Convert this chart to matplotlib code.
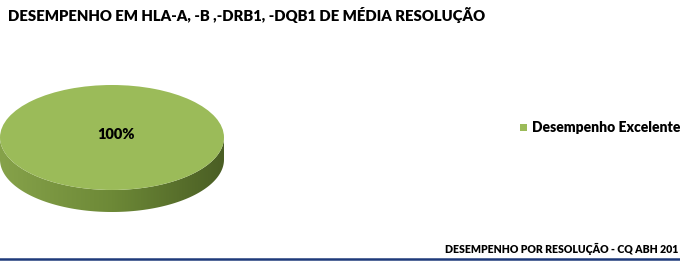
import numpy as np
import matplotlib.pyplot as plt
from matplotlib.patches import Polygon, Rectangle
from matplotlib.lines import Line2D
from matplotlib.colors import LinearSegmentedColormap

title = "DESEMPENHO EM HLA-A, -B ,-DRB1, -DQB1 DE MÉDIA RESOLUÇÃO"
labels = ["Desempenho Excelente"]
values = [100]
colors = ["#9bbb59"]
footer = "DESEMPENHO POR RESOLUÇÃO - CQ ABH 201"

W, H = 680, 261
fig = plt.figure(figsize=(W / 100, H / 100), dpi=100)
plt.rcParams['font.family'] = ['Lato', 'DejaVu Sans']

# pie axes: top face spans x 0..224, y 85..190 px, side 22 px deep
depth = 0.42
top_px, bot_px = 85, 212
ax = fig.add_axes([0 / W, (H - bot_px) / H, 224 / W, (bot_px - top_px) / H])

# side of the cylinder with horizontal gradient
t = np.linspace(np.pi, 2 * np.pi, 200)
upper = np.column_stack([np.cos(t), np.sin(t)])
lower = np.column_stack([np.cos(t[::-1]), np.sin(t[::-1]) - depth])
side = Polygon(np.vstack([upper, lower]), closed=True, facecolor='none', edgecolor='none')
ax.add_patch(side)
cmap = LinearSegmentedColormap.from_list("side", ["#86a24a", "#6d8937", "#4a5e24"])
grad = np.linspace(0, 1, 256).reshape(1, -1)
im = ax.imshow(grad, cmap=cmap, extent=[-1, 1, -1 - depth, 0.2], aspect='auto', zorder=1)
im.set_clip_path(side)

wedges, texts, autotexts = ax.pie(values, colors=colors, startangle=90, radius=1,
                                  autopct='%1.0f%%', pctdistance=0.0,
                                  wedgeprops=dict(linewidth=0),
                                  textprops=dict(fontsize=10.5, fontweight='heavy', color='black'))
for w in wedges:
    w.set_zorder(2)
for a in autotexts:
    a.set_zorder(3)
    a.set_position((0.04, 0.05))
ax.set_aspect('auto')
ax.set_xlim(-1, 1)
ax.set_ylim(-1 - depth, 1)
ax.axis('off')

# title
fig.text(8 / W, 1 - 15 / H, title, fontsize=10.75, fontweight='heavy', ha='left', va='center')

# legend
fig.patches.append(Rectangle((520 / W, 1 - 131 / H), 7 / W, 7 / H, transform=fig.transFigure,
                             facecolor=colors[0], edgecolor='none'))
fig.text(532 / W, 1 - 128 / H, labels[0], fontsize=10.0, fontweight='heavy', ha='left', va='center')

# footer
fig.text(445 / W, 1 - 249 / H, footer, fontsize=7.6, fontweight='heavy', ha='left', va='center')
fig.add_artist(Line2D([0, 1], [1 - 258.5 / H, 1 - 258.5 / H], transform=fig.transFigure,
                      color='#1f3a7a', linewidth=1.8))

fig.savefig('out.png', dpi=100)
